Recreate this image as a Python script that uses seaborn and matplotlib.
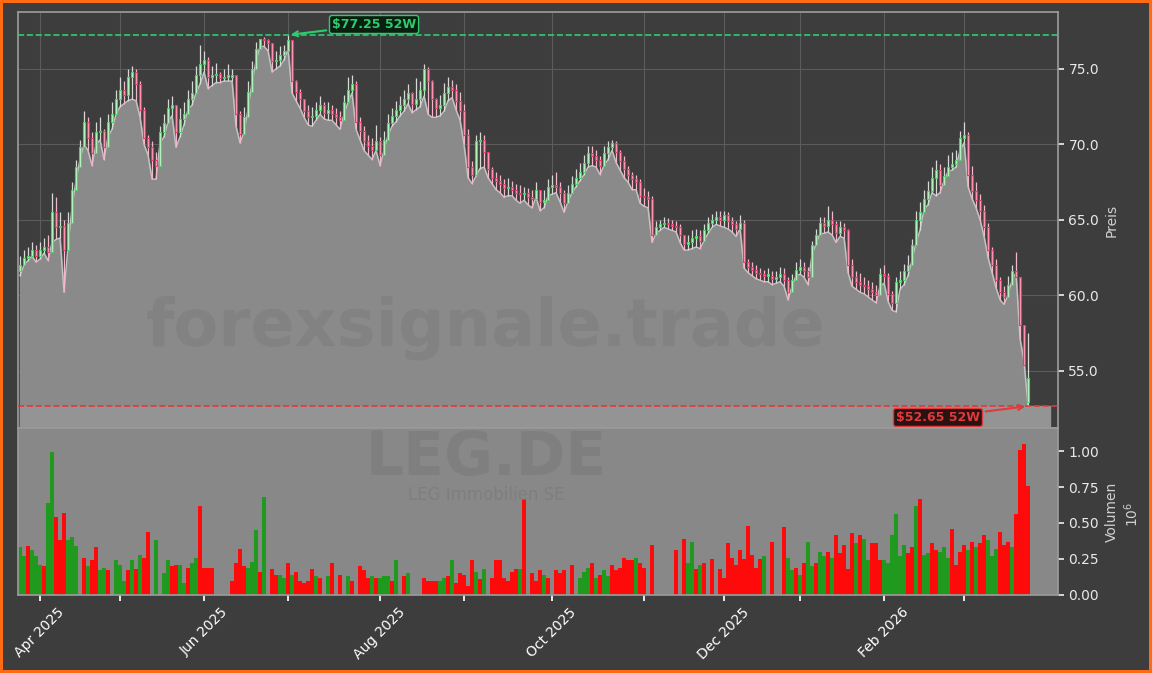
import numpy as np
import pandas as pd
import matplotlib
matplotlib.use("Agg")
import matplotlib.pyplot as plt
import seaborn as sns

# ---- data ----
HOLIDAYS = ["2025-04-18", "2025-04-21", "2025-05-01", "2025-12-24",
            "2025-12-25", "2025-12-26", "2025-12-31", "2026-01-01"]

lows = [61.3,62.0,62.3,62.6,62.2,62.4,62.8,62.3,63.5,63.7,63.8,60.2,63.2,65.8,67.6,69.0,70.0,69.6,
        68.6,70.0,70.3,69.0,70.5,71.0,72.0,72.5,72.7,72.9,73.0,72.9,71.8,70.0,69.3,67.7,67.7,70.1,70.5,71.5,71.9,69.8,70.5,71.3,72.3,72.6,73.4,74.0,74.8,73.7,73.9,74.1,74.1,74.2,74.2,74.2,
        71.2,70.1,70.8,72.3,74.1,75.5,76.5,76.5,76.2,74.8,75.0,75.2,75.6,76.3,73.4,72.9,72.4,71.8,71.3,71.2,71.6,72.0,71.7,71.6,71.6,71.3,71.0,72.0,72.8,73.4,71.0,70.3,69.6,69.3,69.0,69.6,
        68.6,69.6,70.6,71.2,71.5,71.9,72.2,72.7,72.1,72.3,72.5,73.2,72.0,71.8,71.8,71.9,72.2,72.9,73.1,72.3,71.6,70.0,67.8,67.4,67.9,68.4,68.5,67.8,67.4,67.0,66.8,66.5,66.6,66.6,66.3,66.1,
        66.3,66.0,65.8,66.5,65.6,65.8,66.6,66.7,66.8,66.2,65.5,66.2,66.8,67.2,67.6,68.0,68.5,68.6,68.5,68.0,68.6,69.0,69.6,68.8,68.3,67.8,67.5,67.0,67.0,66.1,65.9,65.8,63.5,64.1,64.3,64.5,
        64.4,64.3,64.2,63.5,63.0,63.0,63.1,63.2,63.1,63.6,64.1,64.5,64.7,64.6,64.5,64.4,64.2,63.9,64.4,61.8,61.5,61.3,61.1,61.0,60.9,60.9,60.7,60.8,60.9,60.6,59.7,60.6,61.3,61.4,61.2,60.7,
        62.7,63.4,64.1,64.1,64.2,64.0,63.5,63.9,63.8,61.5,60.6,60.4,60.2,60.1,59.9,59.7,59.5,60.6,60.8,59.6,59.0,58.9,60.4,60.7,61.3,62.3,63.5,64.3,65.7,66.0,66.8,66.6,66.8,67.6,68.2,68.3,
        68.5,69.6,70.1,67.2,66.4,65.8,65.0,63.9,62.5,61.5,60.5,59.7,59.4,60.0,61.0,61.5,57.1,55.6,52.65]

closes = [62.0,62.5,62.6,63.0,62.6,63.0,63.2,62.9,65.5,64.5,64.6,63.0,64.8,67.0,68.5,69.8,71.5,70.4,
          69.4,70.8,70.9,69.8,71.5,72.0,73.0,73.6,73.3,74.5,74.8,74.0,72.3,70.4,69.8,69.0,68.6,70.8,71.4,72.4,72.6,70.8,71.7,72.0,73.0,73.4,74.6,75.3,75.6,74.5,74.6,74.7,74.4,74.5,74.5,74.6,
          72.0,70.7,71.8,73.5,75.0,76.3,77.0,76.9,76.7,75.5,75.6,75.9,76.2,76.9,74.2,73.5,73.0,72.2,71.8,71.9,72.3,72.6,72.1,72.3,72.0,71.8,71.6,72.8,73.6,74.0,71.5,70.9,70.2,69.9,69.6,70.2,
          69.3,70.3,71.4,71.9,72.3,72.6,73.0,73.4,72.7,73.0,73.6,75.0,74.2,73.0,72.4,72.6,73.4,73.8,73.6,72.9,72.2,70.6,68.5,68.0,70.2,70.3,69.5,68.4,67.8,67.6,67.4,67.1,67.2,67.0,66.8,66.7,
          66.8,66.5,66.4,67.0,66.2,66.3,67.2,67.3,67.2,66.8,66.1,66.8,67.4,67.8,68.2,68.8,69.4,69.2,69.0,68.6,69.4,69.8,70.1,69.5,68.9,68.4,68.0,67.7,67.5,66.6,66.5,66.4,64.0,64.5,64.7,64.8,
          64.7,64.6,64.5,64.0,63.4,63.5,63.8,63.9,63.6,64.3,64.8,65.0,65.2,65.0,65.3,64.9,64.7,64.4,64.8,62.2,61.9,61.7,61.5,61.4,61.3,61.3,61.1,61.2,61.4,61.0,60.2,61.0,61.7,61.9,61.6,61.2,
          63.3,64.0,64.8,64.6,65.0,64.7,64.1,64.5,64.3,62.0,61.2,60.9,60.7,60.6,60.4,60.2,60.0,61.4,61.3,60.1,59.5,60.9,61.0,61.6,62.0,63.3,65.0,65.5,66.4,66.9,67.8,68.3,67.3,67.9,68.5,68.7,
          69.0,70.4,70.6,68.0,66.9,66.3,65.6,64.5,63.0,62.0,61.0,60.2,59.9,60.7,61.6,61.2,58.0,55.4,54.5]

highs = [62.6,63.0,63.2,63.5,63.3,63.5,63.8,64.0,66.8,66.5,65.5,65.0,65.5,67.5,69.0,70.3,72.2,71.8,
         70.8,71.5,71.8,71.0,72.0,72.8,73.6,74.5,74.2,75.0,75.2,75.0,74.2,72.5,70.6,70.2,69.5,71.2,72.0,73.0,73.2,72.5,72.4,72.8,73.6,74.2,75.2,76.6,76.2,75.8,75.2,75.4,74.8,75.0,75.3,75.0,
         74.6,72.2,72.5,74.2,75.5,76.8,77.0,77.1,77.0,76.7,76.2,76.5,76.6,77.25,76.8,74.3,73.7,73.0,72.6,72.5,72.8,73.2,72.8,72.8,72.6,72.4,72.2,73.3,74.5,74.6,74.2,71.8,71.2,70.6,70.4,71.3,
         70.5,70.9,72.0,72.4,72.9,73.2,73.6,74.0,73.5,74.4,74.2,75.3,75.1,74.3,73.1,73.3,74.1,74.5,74.3,74.0,73.5,72.7,71.0,68.9,70.6,70.8,70.6,69.5,68.5,68.2,68.0,67.7,67.8,67.6,67.4,67.3,
         67.2,67.1,67.0,67.5,67.0,67.0,67.7,68.0,68.2,67.5,67.0,67.3,67.9,68.4,68.8,69.3,69.9,69.9,69.6,69.2,69.9,70.2,70.3,70.2,69.6,69.2,68.6,68.2,68.0,67.7,67.1,66.9,66.6,64.9,65.0,65.2,
         65.1,65.0,64.9,64.7,63.9,64.0,64.3,64.4,64.3,64.7,65.2,65.4,65.6,65.6,65.6,65.5,65.2,64.9,65.3,65.0,62.4,62.2,62.0,61.8,61.7,61.8,61.6,61.6,61.9,61.8,61.2,61.4,62.2,62.4,62.2,61.9,
         63.6,64.4,65.2,65.2,65.9,65.6,64.9,64.9,64.8,64.4,62.4,61.6,61.5,61.2,61.0,60.9,60.7,61.8,62.0,61.5,60.3,61.2,61.6,62.1,62.7,63.7,65.6,66.2,67.0,67.6,68.5,69.0,68.7,68.5,69.3,69.5,
         69.6,70.9,71.5,70.8,68.6,67.5,66.7,66.0,64.8,63.2,62.4,61.2,60.6,61.3,62.0,62.9,61.2,57.8,57.5]

first_open = 61.6
last_open = 52.9  # gap down on the last session

# volume in millions, 0 = no bar; direction G/R per bar
volume = [0.33,0.27,0.34,0.31,0.27,0.21,0.20,0.64,0.99,0.54,0.38,0.57,0.38,0.40,0.34,0,0.26,0.20,0.24,0.33,
          0.17,0.19,0.17,0,0.24,0.21,0.10,0.17,0.24,0.18,0.28,0.26,0.44,0,0.38,0,0.15,0.24,0.20,0.21,
          0.21,0.08,0.19,0.22,0.26,0.62,0.19,0.19,0.19,0,0,0,0,0.10,0.22,0.32,0.20,0.19,0.23,0.45,
          0.16,0.68,0,0.18,0.14,0.14,0.12,0.22,0.14,0.16,0.10,0.08,0.10,0.18,0.13,0.12,0,0.13,0.22,0,
          0.14,0,0.13,0.10,0,0.20,0.17,0.12,0.13,0.12,0.12,0.13,0.13,0.10,0.24,0,0.13,0.15,0,0,
          0,0.12,0.10,0.10,0.10,0.10,0.12,0.13,0.24,0.08,0.15,0.14,0.06,0.24,0.16,0.11,0.18,0,0.12,0.24,
          0.24,0.12,0.10,0.16,0.18,0.18,0.67,0,0.15,0.10,0.17,0.14,0.12,0,0.17,0.155,0.17,0,0.21,0,
          0.12,0.16,0.19,0.22,0.12,0.14,0.17,0.13,0.21,0.17,0.19,0.26,0.24,0.24,0.26,0.22,0.19,0,0.35,0,
          0,0,0,0,0.31,0,0.39,0.22,0.37,0.18,0.21,0.22,0,0.25,0,0.18,0.12,0.36,0.26,0.21,
          0.31,0.25,0.48,0.28,0.19,0.25,0.27,0,0.37,0,0,0.47,0.26,0.17,0.19,0.14,0.22,0.37,0.20,0.22,
          0.30,0.27,0.30,0.26,0.42,0.29,0.35,0.18,0.43,0.36,0.42,0.39,0.24,0.36,0.36,0.24,0.24,0.22,0.42,0.56,
          0.27,0.35,0.29,0.33,0.62,0.67,0.28,0.29,0.36,0.31,0.30,0.33,0.26,0.46,0.21,0.30,0.35,0.31,0.37,0.33,
          0.36,0.42,0.38,0.27,0.32,0.44,0.35,0.37,0.33,0.56,1.01,1.05,0.76]
vol_dir = ("GGRGGGRGGRRRGGG-RGRRGGR-GGGRGRGRR-G-GGRRGGRGGRRRR----RRRRGGGRG-RRGGRGRRRRRGR-GR-"
           "R-GR-RRRGRGGGRG-RG---RRRRGGRGRRRRRGRG-RRRRRRRG-GRRRG-RRR-G-GGGGRGRGGRRRRRRGR-G-----"
           "G-RRGGRG-R-GRRRRRRRRRR-G--RGRGGRGRGGRGGRGRRRRRGRGGRRRGGGGGGRRGRGGRRGGGRRRRGRGRRGGGRRRG")

TITLE_TICKER = "LEG.DE"
COMPANY = "LEG Immobilien SE"
WATERMARK = "forexsignale.trade"

# ---- build frame ----
n = len(lows)
dates = pd.bdate_range("2025-03-25", periods=n + 20, freq="C", holidays=HOLIDAYS)[:n]
df = pd.DataFrame({"date": dates, "low": lows, "close": closes, "high": highs})
df["open"] = [first_open] + closes[:-2] + [last_open]
df["idx"] = np.arange(n)
vol = np.array((volume + [0] * n)[:n])
vdir = (vol_dir + "-" * n)[:n]

BG = "#3d3d3d"
sns.set_theme(style="dark")
plt.rcParams["font.family"] = ["DejaVu Sans"]

fig = plt.figure(figsize=(11.52, 6.73), dpi=100, facecolor=BG)
fig.patch.set_edgecolor("#ff6a13")
fig.patch.set_linewidth(4)
ax = fig.add_axes([0.0156, 0.364, 0.9028, 0.618])
axv = fig.add_axes([0.0156, 0.116, 0.9028, 0.248], sharex=ax)

ax.set_facecolor(BG)
axv.set_facecolor("#888888")
ymin, ymax = 51.2, 78.77

# area of lows
ax.fill_between(df["idx"], df["low"], ymin, color="#8a8a8a", zorder=1)
ax.fill_between([0, n + 4.5], [52.65, 52.65], ymin, color="#949494", zorder=1)
sns.lineplot(x="idx", y="low", data=df, ax=ax, color="#c4c4c4", lw=1.0, zorder=2)

# candles
for r in df.itertuples():
    up = r.close >= r.open
    edge = "#3ddc5a" if up else "#ff2d6a"
    face = "#bff5c6" if up else "#ff9fb8"
    lo = min(r.low, r.open, r.close)
    hi = max(r.high, r.open, r.close)
    ax.vlines(r.idx, lo, hi, color="#d8d8d8" if up else "#f0b8c8", lw=0.9, zorder=3)
    b0, b1 = sorted([r.open, r.close])
    ax.add_patch(plt.Rectangle((r.idx - 0.3, b0), 0.6, max(b1 - b0, 0.08),
                               facecolor=face, edgecolor=edge, lw=0.8, zorder=4))

# 52 week lines
hi_i = int(np.argmax(df["high"])); hi_v = df["high"].max()
lo_i = int(np.argmin(df["low"])); lo_v = df["low"].min()
ax.axhline(hi_v, color="#2ecc71", ls="--", lw=1.2, zorder=5)
ax.axhline(lo_v, color="#e03a3a", ls="--", lw=1.2, zorder=5)
ax.annotate(f"${hi_v:.2f} 52W", xy=(hi_i, hi_v), xytext=(hi_i + 11, hi_v + 0.7),
            color="#2ecc71", fontsize=9, fontweight="bold", va="center", zorder=6,
            bbox=dict(boxstyle="round,pad=0.2", fc="#0b1f10", ec="#2ecc71", lw=1),
            arrowprops=dict(arrowstyle="->", color="#2ecc71", lw=1.5))
ax.annotate(f"${lo_v:.2f} 52W", xy=(lo_i, lo_v), xytext=(lo_i - 33, lo_v - 0.75),
            color="#e03a3a", fontsize=9, fontweight="bold", va="center", zorder=6,
            bbox=dict(boxstyle="round,pad=0.2", fc="#2a1212", ec="#e03a3a", lw=1),
            arrowprops=dict(arrowstyle="->", color="#e03a3a", lw=1.5))

ax.text(0.45, 0.24, WATERMARK, transform=ax.transAxes, ha="center", va="center",
        fontsize=47, fontweight="bold", color="#7e7e7e", alpha=0.6, zorder=2)

ax.set_ylim(ymin, ymax)
ax.set_xlim(-0.5, 259.5)
ax.yaxis.tick_right()
ax.yaxis.set_label_position("right")
ax.set_yticks([55, 60, 65, 70, 75])
ax.set_yticklabels([f"{v:.1f}" for v in [55, 60, 65, 70, 75]])
ax.set_ylabel("Preis", color="#d0d0d0", fontsize=10)
ax.tick_params(axis="y", colors="#e8e8e8", labelsize=10, length=4, right=True)
ax.tick_params(axis="x", bottom=False, labelbottom=False)
ax.grid(True, color="#5c5c5c", lw=0.8, zorder=0)
ax.set_axisbelow(True)
ax.set_xlabel("")

# volume
vcolors = ["#1f9a1f" if d == "G" else "#ff0a0a" for d in vdir]
axv.bar(df["idx"], vol, width=1.0, color=vcolors, lw=0)
axv.set_ylim(0, 1.16)
axv.yaxis.tick_right()
axv.yaxis.set_label_position("right")
axv.set_yticks([0, 0.25, 0.5, 0.75, 1.0])
axv.set_yticklabels(["0.00", "0.25", "0.50", "0.75", "1.00"])
axv.set_ylabel("Volumen", color="#d0d0d0", fontsize=10)
axv.text(1.062, 0.48, r"$10^6$", transform=axv.transAxes, rotation=90,
         color="#d0d0d0", fontsize=10, va="center")
axv.tick_params(axis="y", colors="#e8e8e8", labelsize=10, length=4, right=True)
axv.text(0.45, 0.82, TITLE_TICKER, transform=axv.transAxes, ha="center", va="center",
         fontsize=43, fontweight="bold", color="#7c7c7c", alpha=0.7)
axv.text(0.45, 0.6, COMPANY, transform=axv.transAxes, ha="center", va="center",
         fontsize=12, color="#7c7c7c", alpha=0.8)

# month ticks
month_first = df.groupby(df["date"].dt.to_period("M"))["idx"].min()
month_first = month_first[month_first > 0]
axv.set_xticks(month_first.values)
labels = [p.strftime("%b %Y") if p.month % 2 == 0 else "" for p in month_first.index]
axv.set_xticklabels(labels, rotation=45, ha="center", color="white", fontsize=10)
axv.tick_params(axis="x", colors="white", length=4, bottom=True)
ax.set_xticks(month_first.values)
axv.grid(False)
axv.set_xlabel("")

for a in (ax, axv):
    for s in a.spines.values():
        s.set_color("#9a9a9a")

fig.savefig("out.png", dpi=100, facecolor=BG, edgecolor=fig.patch.get_edgecolor())
